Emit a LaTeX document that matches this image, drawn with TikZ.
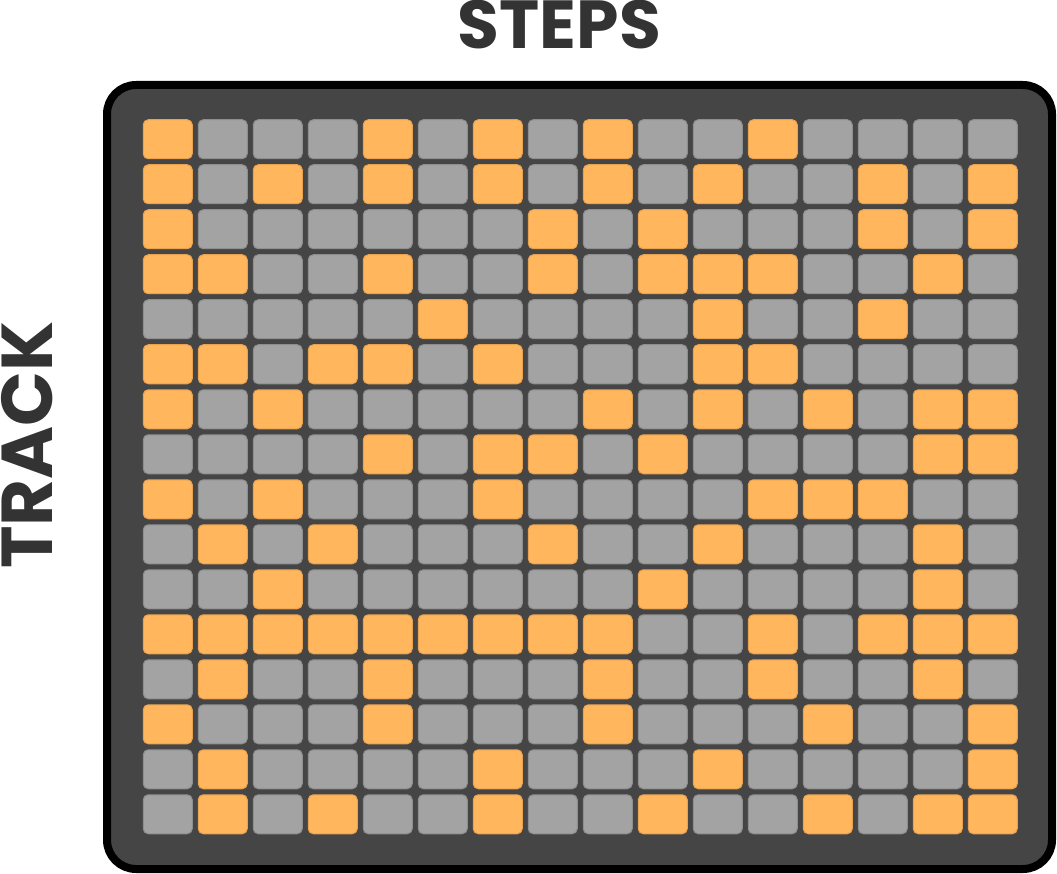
\documentclass[tikz,border=0pt]{standalone}
\usepackage{fontspec}
\newfontfamily\popfont{Poppins}
\definecolor{txtc}{HTML}{333333}
\definecolor{bgc}{HTML}{454545}
\definecolor{onc}{HTML}{FFB65C}
\definecolor{ond}{HTML}{E9A24F}
\definecolor{offc}{HTML}{A3A3A3}
\definecolor{offd}{HTML}{8E8E8E}
\tikzset{
  cellbase/.style={rectangle, rounded corners=5pt, minimum width=49pt, minimum height=39pt, inner sep=0pt, line width=1pt},
  oncell/.style={cellbase, fill=onc, draw=ond},
  offcell/.style={cellbase, fill=offc, draw=offd},
  title/.style={font=\popfont\bfseries\fontsize{68}{68}\selectfont, text=txtc, inner sep=0pt},
  bigtitle/.style={title, font=\popfont\bfseries\fontsize{72}{72}\selectfont},
  board/.style={rectangle, draw=black, fill=bgc, line width=8pt, rounded corners=29pt, minimum width=945pt, minimum height=784pt, inner sep=0pt}
}
\begin{document}
\begin{tikzpicture}[x=1pt,y=-1pt]
\useasboundingbox (0,0) rectangle (1057,874);
\node[board] (board) at (579.5,477) {};
\node[title] (steps) at (559.5,25) {STEPS};
\node[bigtitle, rotate=90] (track) at (27.5,445) {TRACK};
\foreach \row [count=\j] in {
 {1,0,0,0,1,0,1,0,1,0,0,1,0,0,0,0},
 {1,0,1,0,1,0,1,0,1,0,1,0,0,1,0,1},
 {1,0,0,0,0,0,0,1,0,1,0,0,0,1,0,1},
 {1,1,0,0,1,0,0,1,0,1,1,1,0,0,1,0},
 {0,0,0,0,0,1,0,0,0,0,1,0,0,1,0,0},
 {1,1,0,1,1,0,1,0,0,0,1,1,0,0,0,0},
 {1,0,1,0,0,0,0,0,1,0,1,0,1,0,1,1},
 {0,0,0,0,1,0,1,1,0,1,0,0,0,0,1,1},
 {1,0,1,0,0,0,1,0,0,0,0,1,1,1,0,0},
 {0,1,0,1,0,0,0,1,0,0,1,0,0,0,1,0},
 {0,0,1,0,0,0,0,0,0,1,0,0,0,0,1,0},
 {1,1,1,1,1,1,1,1,1,0,0,1,0,1,1,1},
 {0,1,0,0,1,0,0,0,1,0,0,1,0,0,1,0},
 {1,0,0,0,1,0,0,0,1,0,0,0,1,0,0,1},
 {0,1,0,0,0,0,1,0,0,0,1,0,0,0,0,1},
 {0,1,0,1,0,0,1,0,0,1,0,0,1,0,1,1}}{
  \foreach \v [count=\i] in \row {
    \ifnum\v=1 \tikzset{curcell/.style={oncell}}\else\tikzset{curcell/.style={offcell}}\fi
    \node[curcell] (c-\j-\i) at ({167.75+55*(\i-1)},{139.25+45*(\j-1)}) {};
  }
}
\end{tikzpicture}
\end{document}
